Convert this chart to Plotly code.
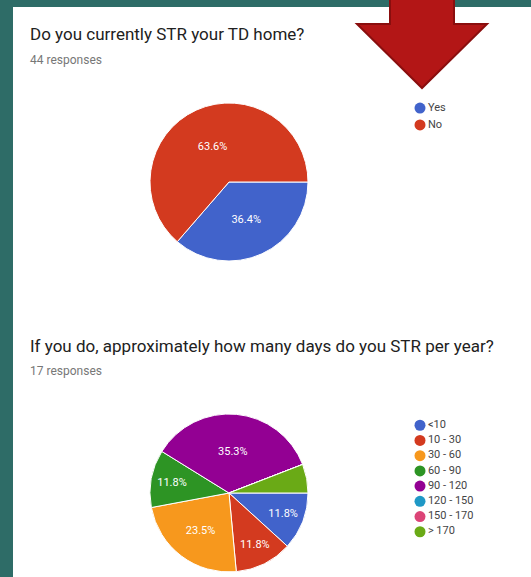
import plotly.graph_objects as go

# survey data
q1_title = "Do you currently STR your TD home?"
q1_count = 44
q1_labels = ["Yes", "No"]
q1_values = [16, 28]

q2_title = "If you do, approximately how many days do you STR per year?"
q2_count = 17
q2_labels = ["<10", "10 - 30", "30 - 60", "60 - 90", "90 - 120", "120 - 150", "150 - 170", "> 170"]
q2_values = [2, 2, 4, 2, 6, 0, 0, 1]

palette = ["#4163cb", "#d33a1f", "#f7981d", "#2d9424", "#930093", "#1f98c6", "#dc4477", "#6aaa16"]

W, H = 531, 577


def px(x):
    return x / W


def py(y):
    return 1 - y / H


def pct_text(values):
    total = sum(values)
    out = []
    for v in values:
        p = v / total * 100
        out.append(f"{p:.1f}%" if p >= 10 else "")
    return out


fig = go.Figure()

fig.add_trace(go.Pie(
    labels=q1_labels, values=q1_values, sort=False, direction="clockwise", rotation=90,
    text=pct_text(q1_values), textinfo="text", textposition="inside",
    insidetextorientation="horizontal",
    marker=dict(colors=palette[:2], line=dict(color="white", width=1)),
    textfont=dict(family="Roboto", size=11, color="white"),
    domain=dict(x=[px(150), px(308)], y=[py(261), py(103)]),
    showlegend=False, hoverinfo="skip",
))

fig.add_trace(go.Pie(
    labels=q2_labels, values=q2_values, sort=False, direction="clockwise", rotation=90,
    text=pct_text(q2_values), textinfo="text", textposition="inside",
    insidetextorientation="horizontal",
    marker=dict(colors=palette, line=dict(color="white", width=1)),
    textfont=dict(family="Roboto", size=11, color="white"),
    domain=dict(x=[px(150), px(308)], y=[py(572), py(414)]),
    showlegend=False, hoverinfo="skip",
))

# legends as category axes
legend_font = dict(family="Roboto", size=11, color="#444")
fig.add_trace(go.Scatter(
    x=[0] * len(q1_labels), y=q1_labels, mode="markers+text", text=q1_labels,
    textposition="middle right", textfont=legend_font, cliponaxis=False,
    marker=dict(size=11, color=palette[:2]), xaxis="x", yaxis="y",
    showlegend=False, hoverinfo="skip",
))
fig.add_trace(go.Scatter(
    x=[0] * len(q2_labels), y=q2_labels, mode="markers+text", text=q2_labels,
    textposition="middle right", textfont=legend_font, cliponaxis=False,
    marker=dict(size=11, color=palette), xaxis="x2", yaxis="y2",
    showlegend=False, hoverinfo="skip",
))

hidden = dict(visible=False, fixedrange=True)
fig.update_layout(
    xaxis=dict(domain=[px(420), px(520)], range=[0, 10], **hidden),
    yaxis=dict(domain=[py(133.5), py(99.5)], type="category", autorange="reversed", **hidden),
    xaxis2=dict(domain=[px(420), px(520)], range=[0, 10], anchor="y2", **hidden),
    yaxis2=dict(domain=[py(545.3), py(411.7)], type="category", autorange="reversed",
                anchor="x2", **hidden),
)

# teal backdrop, white card, red arrow
arrow = [(390, -5), (390, 24), (357, 24), (422, 88), (487, 24), (454, 24), (454, -5)]
path = "M " + " L ".join(f"{px(x)},{py(y)}" for x, y in arrow) + " Z"
fig.update_layout(shapes=[
    dict(type="rect", xref="paper", yref="paper", x0=px(13), x1=1.01, y0=-0.01, y1=py(7),
         fillcolor="white", line=dict(width=0), layer="below"),
    dict(type="path", xref="paper", yref="paper", path=path,
         fillcolor="#b31616", line=dict(color="#8a0e0e", width=2), layer="above"),
])

title_font = dict(family="Roboto", size=17, color="#212121")
sub_font = dict(family="Roboto", size=12, color="#777")
fig.update_layout(annotations=[
    dict(text=q1_title, x=px(28), y=py(34), xref="paper", yref="paper", xanchor="left",
         yanchor="middle", showarrow=False, font=title_font),
    dict(text=f"{q1_count} responses", x=px(28), y=py(60), xref="paper", yref="paper",
         xanchor="left", yanchor="middle", showarrow=False, font=sub_font),
    dict(text=q2_title, x=px(28), y=py(346), xref="paper", yref="paper", xanchor="left",
         yanchor="middle", showarrow=False, font=title_font),
    dict(text=f"{q2_count} responses", x=px(28), y=py(371), xref="paper", yref="paper",
         xanchor="left", yanchor="middle", showarrow=False, font=sub_font),
])

fig.update_layout(
    width=W, height=H, margin=dict(l=0, r=0, t=0, b=0),
    paper_bgcolor="#2e6c67", plot_bgcolor="rgba(0,0,0,0)",
    font=dict(family="Roboto"),
)

fig.write_html("out.html", config={"displayModeBar": False},
               post_script="document.body.style.margin='0';document.body.style.overflow='hidden';")
